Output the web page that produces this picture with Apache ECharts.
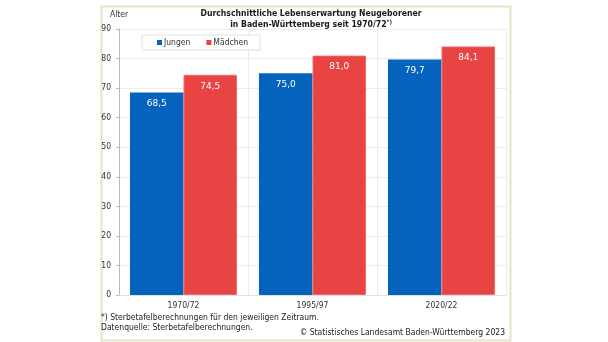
<!DOCTYPE html>
<html>
<head>
<meta charset="utf-8">
<script src="https://cdn.jsdelivr.net/npm/echarts@6/dist/echarts.min.js"></script>
<style>
  html, body { margin: 0; padding: 0; background: #ffffff; }
  #chart { width: 608px; height: 342px; }
</style>
</head>
<body>
<div id="chart"></div>
<script>
// Life expectancy at birth in Baden-Württemberg, by period
const periods = ['1970/72', '1995/97', '2020/22'];
const boys = [68.5, 75.0, 79.7];
const girls = [74.5, 81.0, 84.1];
const yTicks = [0, 10, 20, 30, 40, 50, 60, 70, 80, 90];

const FONT = 'DejaVu Sans';
const FONT_C = 'DejaVu Sans Condensed';
const fmt = v => v.toFixed(1).replace('.', ',');

const chart = echarts.init(document.getElementById('chart'), null, { renderer: 'canvas' });

chart.setOption({
  backgroundColor: '#ffffff',
  animation: false,
  textStyle: { fontFamily: FONT_C },
  title: {
    text: 'Durchschnittliche Lebenserwartung Neugeborener\nin Baden-Württemberg seit 1970/72{s|*)}',
    left: 306,
    textAlign: 'center',
    top: 3,
    textStyle: {
      fontFamily: FONT_C, fontSize: 8.6, fontWeight: 'bold', color: '#1a1a1a', lineHeight: 11,
      rich: { s: { fontFamily: FONT_C, fontSize: 6, fontWeight: 'bold', verticalAlign: 'top', color: '#1a1a1a' } }
    }
  },
  legend: {
    left: 142, top: 35,
    width: 114,
    itemWidth: 5, itemHeight: 5, itemGap: 16,
    padding: [3, 12, 3, 15],
    borderColor: '#e0e0e0', borderWidth: 1,
    backgroundColor: '#ffffff',
    icon: 'rect',
    textStyle: { fontFamily: FONT_C, fontSize: 8.5, color: '#333', padding: [0, 0, 0, -3] },
    data: [
      { name: 'Jungen', itemStyle: { color: '#0563be', borderWidth: 0 } },
      { name: 'Mädchen', itemStyle: { color: '#e84444', borderWidth: 0 } }
    ]
  },
  grid: { left: 119, right: 102, top: 29, bottom: 47 },
  xAxis: {
    type: 'category',
    data: periods,
    axisLine: { lineStyle: { color: '#e2e2e2' } },
    axisTick: { show: false },
    axisLabel: { fontFamily: FONT_C, fontSize: 8.5, color: '#333', margin: 6 },
    splitLine: { show: true, lineStyle: { color: '#ececec' } }
  },
  yAxis: {
    type: 'value',
    min: yTicks[0], max: yTicks[yTicks.length - 1], interval: 10,
    name: 'Alter',
    nameLocation: 'end',
    nameGap: 10,
    nameTextStyle: { fontFamily: FONT_C, fontSize: 8.5, color: '#333', align: 'center' },
    axisLine: { show: true, lineStyle: { color: '#b8b8b8' } },
    axisTick: { show: true, length: 3, lineStyle: { color: '#b8b8b8' } },
    axisLabel: { fontFamily: FONT_C, fontSize: 8.5, color: '#333', margin: 8 },
    splitLine: { lineStyle: { color: '#ececec' } }
  },
  series: [
    {
      name: 'Jungen', type: 'bar', data: boys,
      barGap: '0%', barCategoryGap: '17%',
      itemStyle: { color: '#0563be' },
      label: { show: true, position: 'insideTop', distance: 7, color: '#ffffff', fontFamily: FONT, fontSize: 9, formatter: p => fmt(p.value) }
    },
    {
      name: 'Mädchen', type: 'bar', data: girls,
      itemStyle: { color: '#e84444', borderColor: '#f06a6a', borderWidth: 1 },
      label: { show: true, position: 'insideTop', distance: 7, color: '#ffffff', fontFamily: FONT, fontSize: 9, formatter: p => fmt(p.value) }
    }
  ],
  graphic: [
    {
      type: 'rect', left: 99, top: 4, z: -10,
      shape: { width: 409, height: 334 },
      style: { fill: 'none', stroke: '#e4e6c4', lineWidth: 2 }
    },
    {
      type: 'text', left: 101, top: 313,
      style: { text: '*) Sterbetafelberechnungen für den jeweiligen Zeitraum.\nDatenquelle: Sterbetafelberechnungen.', font: '8.5px "DejaVu Sans Condensed"', fill: '#222', lineHeight: 10 }
    },
    {
      type: 'text', right: 103, top: 328,
      style: { text: '© Statistisches Landesamt Baden-Württemberg 2023', font: '8.5px "DejaVu Sans Condensed"', fill: '#222' }
    }
  ]
});
</script>
</body>
</html>
